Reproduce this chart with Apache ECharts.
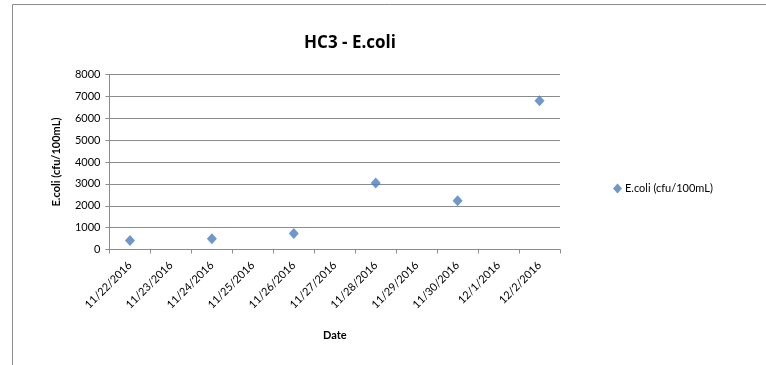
<!DOCTYPE html>
<html>
<head>
<meta charset="utf-8">
<script src="https://cdn.jsdelivr.net/npm/echarts@6/dist/echarts.min.js"></script>
<style>
  html, body { margin: 0; padding: 0; background: #fff; }
  #chart { width: 766px; height: 365px; }
</style>
</head>
<body>
<div id="chart"></div>
<script>
// Every day on the date axis
const dateCategories = [
  '11/22/2016', '11/23/2016', '11/24/2016', '11/25/2016', '11/26/2016',
  '11/27/2016', '11/28/2016', '11/29/2016', '11/30/2016', '12/1/2016', '12/2/2016'
];
// Sampling days and E.coli counts (cfu/100mL)
const sampleDates = ['11/22/2016', '11/24/2016', '11/26/2016', '11/28/2016', '11/30/2016', '12/2/2016'];
const ecoliValues = [410, 490, 730, 3040, 2230, 6800];
const yTicks = { min: 0, max: 8000, interval: 1000 };

const FONT = 'Lato, "Open Sans", sans-serif';
const points = sampleDates.map((d, i) => [d, ecoliValues[i]]);

const chart = echarts.init(document.getElementById('chart'), null, { renderer: 'canvas' });
chart.setOption({
  backgroundColor: '#ffffff',
  animation: false,
  graphic: [{
    type: 'rect',
    shape: { x: 12.5, y: 4.5, width: 900, height: 500 },
    style: { fill: 'none', stroke: '#8c8c8c', lineWidth: 1 },
    silent: true
  }],
  title: {
    text: 'HC3 - E.coli',
    left: 345, top: 30, textAlign: 'center',
    textStyle: { fontFamily: '"Open Sans", Lato, sans-serif', fontWeight: 'bold', fontSize: 17, color: '#000' }
  },
  legend: {
    data: ['E.coli (cfu/100mL)'],
    left: 608, top: 178,
    icon: 'diamond', itemWidth: 9, itemHeight: 10, itemGap: 4,
    textStyle: { fontFamily: FONT, fontSize: 11, color: '#000', padding: [0, 0, 0, -2] }
  },
  grid: { left: 109.5, right: 206, top: 74.5, bottom: 115.5, containLabel: false },
  xAxis: {
    type: 'category',
    data: dateCategories,
    boundaryGap: true,
    name: 'Date',
    nameLocation: 'middle',
    nameGap: 80,
    nameTextStyle: { fontFamily: FONT, fontWeight: 'bold', fontSize: 11, color: '#000' },
    axisLine: { lineStyle: { color: '#8c8c8c', width: 1 } },
    axisTick: { show: true, length: 4, interval: 0, lineStyle: { color: '#8c8c8c' } },
    axisLabel: {
      interval: 0, rotate: 45, margin: 14,
      fontFamily: FONT, fontSize: 11, color: '#000'
    },
    splitLine: { show: false }
  },
  yAxis: {
    type: 'value',
    min: yTicks.min, max: yTicks.max, interval: yTicks.interval,
    name: 'E.coli (cfu/100mL)',
    nameLocation: 'middle',
    nameGap: 48,
    nameTextStyle: { fontFamily: FONT, fontWeight: 'bold', fontSize: 11, color: '#000' },
    axisLine: { show: true, lineStyle: { color: '#8c8c8c', width: 1 } },
    axisTick: { show: true, length: 4, lineStyle: { color: '#8c8c8c' } },
    axisLabel: { margin: 9, fontFamily: FONT, fontSize: 11, color: '#000', formatter: v => String(v) },
    splitLine: { show: true, lineStyle: { color: '#8c8c8c', width: 1 } }
  },
  series: [{
    name: 'E.coli (cfu/100mL)',
    type: 'scatter',
    data: points,
    symbol: 'diamond',
    symbolSize: [10, 11],
    itemStyle: { color: '#4a7ebb' }
  }]
});
</script>
</body>
</html>
